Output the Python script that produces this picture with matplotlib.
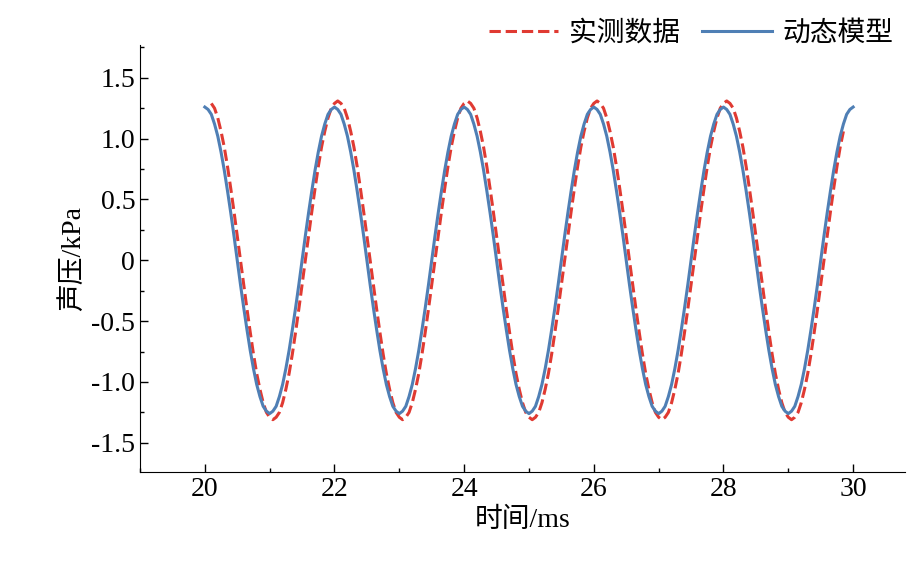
import numpy as np
import matplotlib.pyplot as plt
from matplotlib.ticker import MultipleLocator, FuncFormatter

plt.rcParams['font.family'] = ['Liberation Serif', 'Noto Sans CJK SC']

# values, every 0.05 ms (half period, second half is the mirror)
model_half = [1.26, 1.24, 1.20, 1.12, 1.02, 0.89, 0.74, 0.57, 0.39, 0.20,
              0.00, -0.20, -0.39, -0.57, -0.74, -0.89, -1.02, -1.12, -1.20, -1.24]
meas_half = [1.29, 1.31, 1.29, 1.25, 1.17, 1.06, 0.93, 0.77, 0.59, 0.40,
             0.20, 0.00, -0.20, -0.40, -0.59, -0.77, -0.93, -1.06, -1.17, -1.25]

model_period = model_half + [-v for v in model_half]
meas_period = meas_half + [-v for v in meas_half]

model_t = np.round(np.arange(20.0, 30.001, 0.05), 2)
model_p = model_period * 5 + [1.26]
meas_t = model_t[2:198]
meas_p = (meas_period * 5)[2:198]

fig = plt.figure(figsize=(9.21, 5.69), dpi=100)
ax = fig.add_axes([140/921, 1 - 472/569, 765/921, 427/569])
ax.plot(meas_t, meas_p, '--', color='#e03a32', lw=2.2, label='实测数据')
ax.plot(model_t, model_p, '-', color='#4f7fb5', lw=2.2, label='动态模型')

ax.set_xlim(19.0, 30.8)
ax.set_ylim(-1.74, 1.77)
ax.xaxis.set_major_locator(MultipleLocator(2))
ax.xaxis.set_minor_locator(MultipleLocator(1))
ax.yaxis.set_major_locator(MultipleLocator(0.5))
ax.yaxis.set_minor_locator(MultipleLocator(0.25))
ax.yaxis.set_major_formatter(FuncFormatter(lambda v, p: '0' if abs(v) < 1e-9 else f'{v:.1f}'))
ax.tick_params(which='both', direction='in', labelsize=20, width=1)
ax.tick_params(which='major', length=6)
ax.tick_params(which='minor', length=3)
for s in ['top', 'right']:
    ax.spines[s].set_visible(False)
ax.set_xlabel('时间/ms', fontsize=20)
ax.set_ylabel('声压/kPa', fontsize=20)
ax.legend(loc='lower right', bbox_to_anchor=(1.0, 0.97), ncol=2, frameon=False,
          fontsize=20, handlelength=2.5, handletextpad=0.4, columnspacing=0.8,
          borderaxespad=0)
fig.savefig('out.png')
